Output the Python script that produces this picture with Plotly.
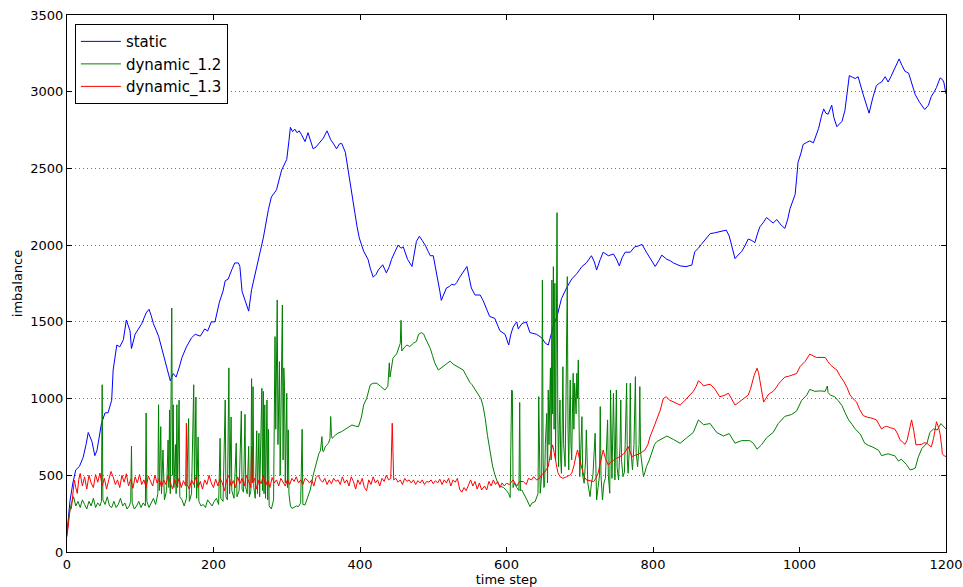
import plotly.graph_objects as go

# values, (time step, imbalance)
static_pts = [
    (0, 120), (4, 330), (8, 450), (12, 535), (17, 558), (22, 616), (26, 700), (29, 779), (34, 721), (38, 628),
    (41, 663), (44, 760), (47, 837), (52, 907), (56, 907), (61, 989), (63, 1186), (68, 1349), (72, 1337), (77, 1384),
    (81, 1512), (86, 1442), (88, 1326), (93, 1419), (97, 1454), (102, 1488), (108, 1558), (112, 1582), (115, 1540),
    (118, 1488), (125, 1407), (131, 1302), (136, 1209), (141, 1116), (145, 1163), (149, 1140), (153, 1200), (157, 1268),
    (163, 1337), (170, 1396), (175, 1419), (182, 1407), (188, 1454), (192, 1440), (197, 1500), (202, 1500), (208, 1628),
    (213, 1700), (216, 1768), (220, 1779), (225, 1840), (229, 1884), (234, 1884), (236, 1861), (239, 1698), (244, 1620),
    (248, 1570), (252, 1710), (259, 1861), (264, 1960), (268, 2047), (275, 2233), (279, 2314), (283, 2340), (286, 2361),
    (293, 2489), (300, 2559), (303, 2680), (305, 2768), (308, 2740), (311, 2756), (314, 2733), (317, 2745), (320, 2721),
    (325, 2675), (329, 2733), (333, 2680), (336, 2628), (340, 2640), (343, 2656), (347, 2680), (350, 2698), (355, 2745),
    (360, 2687), (364, 2660), (368, 2628), (372, 2660), (375, 2663), (380, 2605), (383, 2520), (386, 2419), (390, 2310),
    (393, 2210), (396, 2120), (399, 2047), (405, 1960), (411, 1907), (414, 1850), (418, 1791), (422, 1810), (425, 1838),
    (431, 1872), (436, 1819), (440, 1860), (443, 1907), (448, 1960), (452, 2000), (456, 1980), (459, 1989), (465, 1907),
    (471, 1861), (477, 2024), (481, 2058), (485, 2030), (489, 2000), (493, 1960), (496, 1931), (500, 1931), (503, 1860),
    (506, 1791), (509, 1700), (511, 1640), (515, 1690), (518, 1721), (522, 1730), (525, 1745), (529, 1740), (532, 1756),
    (536, 1790), (539, 1814), (543, 1840), (546, 1861), (549, 1790), (552, 1721), (557, 1675), (564, 1675), (568, 1640),
    (571, 1605), (577, 1535), (584, 1523), (588, 1480), (591, 1442), (598, 1419), (601, 1380), (603, 1349), (606, 1420),
    (609, 1465), (612, 1488), (614, 1500), (616, 1454), (621, 1488), (627, 1500), (632, 1430), (636, 1425), (641, 1419),
    (648, 1396), (653, 1361), (657, 1349), (662, 1442), (665, 1490), (669, 1535), (675, 1651), (682, 1721), (689, 1779),
    (696, 1814), (703, 1861), (709, 1884), (716, 1931), (720, 1890), (723, 1838), (728, 1907), (732, 1954), (739, 1931),
    (746, 1942), (750, 1910), (754, 1865), (758, 1920), (762, 1954), (769, 1954), (775, 1989), (780, 1995), (785, 2005),
    (791, 1954), (798, 1896), (803, 1861), (808, 1900), (812, 1935), (819, 1907), (823, 1900), (828, 1884), (837, 1865),
    (845, 1860), (853, 1870), (857, 1958), (862, 1980), (866, 2005), (872, 2040), (878, 2075), (884, 2080), (889, 2086),
    (895, 2090), (900, 2098), (904, 2060), (907, 2005), (912, 1912), (916, 1935), (921, 1958), (926, 2000), (930, 2040),
    (935, 2030), (939, 2016), (943, 2080), (946, 2120), (951, 2150), (955, 2180), (960, 2160), (964, 2144), (969, 2167),
    (975, 2130), (980, 2109), (984, 2170), (987, 2237), (991, 2290), (994, 2330), (996, 2430), (998, 2540), (1002, 2600),
    (1005, 2656), (1010, 2670), (1014, 2679), (1019, 2667), (1023, 2720), (1026, 2760), (1030, 2840), (1033, 2888),
    (1036, 2860), (1039, 2853), (1044, 2912), (1047, 2830), (1051, 2772), (1055, 2790), (1058, 2807), (1062, 2877),
    (1065, 3010), (1068, 3105), (1072, 3095), (1076, 3086), (1080, 3098), (1084, 3040), (1087, 2981), (1091, 2920),
    (1095, 2860), (1100, 2960), (1105, 3040), (1109, 3055), (1112, 3063), (1117, 3098), (1121, 3063), (1125, 3100),
    (1128, 3133), (1132, 3180), (1136, 3214), (1140, 3170), (1144, 3133), (1149, 3121), (1153, 3060), (1158, 2981),
    (1164, 2930), (1168, 2900), (1171, 2884), (1176, 2912), (1180, 2970), (1184, 3000), (1187, 3028), (1192, 3090),
    (1195, 3080), (1197, 3063), (1200, 2985),
]

# dynamic_1.2, spiky part (0 - 310)
dyn12_early = [
    (0, 120), (3, 250), (6, 317), (9, 360), (12, 300), (15, 330), (18, 290), (21, 340), (24, 310), (27, 280),
    (30, 330), (33, 300), (36, 350), (39, 290), (42, 320), (45, 300), (47, 330), (48, 1090), (49, 340), (52, 310),
    (55, 360), (58, 300), (61, 290), (64, 330), (67, 290), (70, 310), (73, 350), (76, 300), (79, 320), (82, 280),
    (85, 300), (87, 330), (88, 690), (89, 320), (92, 280), (95, 300), (98, 330), (101, 290), (104, 320), (107, 300),
    (108, 906), (109, 330), (112, 290), (115, 320), (118, 350), (121, 310), (124, 380), (125, 960), (126, 400),
    (128, 817), (129, 380), (131, 665), (133, 340), (136, 400), (138, 730), (139, 420), (140, 926), (141, 380),
    (143, 1590), (144, 500), (145, 960), (146, 420), (148, 700), (149, 380), (150, 960), (151, 420), (153, 990),
    (154, 360), (157, 340), (160, 300), (163, 350), (166, 870), (167, 330), (170, 380), (173, 1090), (174, 420),
    (176, 1010), (177, 350), (179, 750), (180, 330), (183, 300), (186, 310), (189, 290), (192, 340), (195, 320),
    (198, 300), (201, 330), (204, 350), (207, 310), (209, 741), (210, 350), (213, 330), (216, 991), (217, 360),
    (219, 340), (221, 1200), (222, 380), (224, 880), (225, 400), (228, 350), (231, 709), (232, 360), (235, 400),
    (238, 919), (239, 410), (241, 390), (243, 897), (244, 420), (246, 380), (248, 689), (249, 360), (251, 400),
    (252, 1130), (253, 450), (254, 1078), (255, 420), (257, 350), (259, 790), (260, 380), (262, 774), (263, 360),
    (266, 1067), (267, 400), (268, 1047), (269, 380), (270, 959), (271, 350), (273, 991), (274, 340), (275, 800),
    (276, 300), (279, 280), (282, 340), (284, 1404), (285, 800), (286, 1300), (287, 1643), (288, 700), (289, 1000),
    (290, 1241), (291, 500), (292, 900), (294, 1610), (295, 600), (296, 1200), (297, 1078), (298, 450), (300, 1034),
    (301, 420), (302, 796), (303, 380), (305, 300), (307, 285),
]

# dynamic_1.2, hump and second spiky burst (310 - 805)
dyn12_mid = [
    (310, 290), (313, 300), (316, 296), (319, 320), (321, 800), (322, 310), (325, 307), (328, 350), (332, 404),
    (336, 500), (339, 556), (342, 610), (344, 643), (346, 660), (348, 752), (349, 660), (350, 654), (353, 690),
    (357, 709), (359, 740), (360, 883), (361, 760), (362, 741), (366, 760), (370, 775), (375, 785), (380, 800),
    (385, 815), (389, 828), (394, 820), (398, 817), (402, 880), (405, 959), (409, 1000), (414, 1089), (418, 1100),
    (423, 1100), (428, 1080), (434, 1056), (438, 1080), (440, 1233), (441, 1140), (445, 1263), (450, 1291),
    (452, 1317), (455, 1360), (456, 1510), (457, 1310), (460, 1330), (464, 1349), (468, 1339), (473, 1361),
    (477, 1372), (480, 1419), (484, 1430), (487, 1420), (489, 1396), (492, 1370), (496, 1326), (499, 1280),
    (502, 1233), (507, 1186), (511, 1200), (516, 1221), (520, 1235), (523, 1244), (527, 1225), (532, 1210),
    (536, 1200), (541, 1186), (545, 1150), (550, 1105), (553, 1090), (557, 1058), (561, 1030), (565, 1000),
    (568, 950), (571, 870), (574, 760), (577, 660), (581, 560), (584, 505), (588, 450), (591, 430), (596, 420),
    (600, 400), (603, 380), (605, 355), (606, 700), (607, 1056), (608, 1050), (609, 420), (611, 450), (614, 420),
    (617, 400), (618, 975), (619, 400), (621, 404), (625, 370), (628, 339), (632, 296), (635, 320), (639, 328),
    (641, 350), (643, 380), (644, 1013), (645, 400), (646, 383), (648, 500), (649, 1773), (650, 600), (651, 420),
    (652, 426), (653, 700), (655, 904), (656, 450), (657, 1056), (658, 700), (659, 991), (660, 1200), (661, 600),
    (662, 1773), (663, 900), (664, 1860), (665, 800), (666, 1752), (667, 600), (668, 1200), (669, 2212), (670, 900),
    (671, 556), (672, 800), (673, 991), (674, 600), (675, 513), (676, 800), (677, 1208), (678, 700), (680, 556),
    (681, 900), (683, 1795), (684, 800), (685, 535), (686, 900), (687, 1121), (688, 700), (689, 600), (690, 900),
    (691, 1165), (692, 800), (693, 1100), (694, 1013), (695, 900), (696, 1165), (697, 1000), (698, 1252), (699, 700),
    (700, 491), (701, 600), (703, 882), (704, 500), (706, 448), (708, 600), (709, 796), (711, 450), (714, 361),
    (716, 450), (718, 500), (721, 774), (722, 450), (723, 339), (725, 420), (727, 500), (728, 948), (729, 500),
    (731, 339), (733, 450), (735, 480), (738, 861), (739, 500), (741, 383), (742, 1056), (743, 500), (744, 480),
    (746, 1034), (747, 600), (748, 470), (750, 1056), (751, 550), (753, 470), (755, 700), (756, 991), (757, 600),
    (759, 491), (761, 520), (762, 700), (764, 1100), (765, 600), (766, 513), (768, 700), (769, 1100), (770, 650),
    (772, 535), (774, 700), (776, 1143), (777, 650), (779, 556), (781, 700), (782, 1078), (783, 650), (785, 578),
    (787, 491), (789, 520), (791, 556), (795, 600), (798, 643), (802, 700), (805, 719),
]

# dynamic_1.2, smooth tail (810 - 1200)
dyn12_late = [
    (810, 733), (819, 756), (828, 733), (837, 709), (846, 744), (855, 779), (862, 861), (869, 830), (878, 837),
    (887, 779), (896, 756), (904, 772), (912, 709), (921, 726), (932, 726), (937, 709), (942, 670), (948, 698),
    (955, 744), (964, 779), (971, 837), (980, 884), (989, 896), (996, 919), (1003, 989), (1010, 1023), (1014, 1060),
    (1021, 1047), (1028, 1050), (1035, 1047), (1038, 1082), (1039, 1040), (1042, 1023), (1048, 1012), (1053, 985),
    (1058, 954), (1062, 910), (1067, 861), (1072, 830), (1076, 802), (1083, 768), (1089, 709), (1094, 695),
    (1099, 686), (1108, 663), (1112, 628), (1117, 635), (1121, 640), (1126, 632), (1130, 628), (1135, 593),
    (1139, 605), (1146, 570), (1151, 535), (1155, 540), (1158, 547), (1162, 616), (1167, 675), (1174, 709),
    (1178, 779), (1183, 802), (1188, 795), (1193, 837), (1197, 814), (1200, 802),
]

# dynamic_1.3, noisy flat part (0 - 597)
dyn13_early = [
    (0, 100), (2, 200), (4, 270), (6, 285), (8, 380), (10, 469), (12, 420), (14, 382), (16, 470), (18, 512),
    (21, 430), (24, 490), (27, 410), (30, 500), (33, 450), (36, 420), (39, 505), (42, 455), (45, 515), (48, 430),
    (51, 480), (54, 410), (57, 470), (60, 525), (63, 490), (66, 440), (69, 470), (72, 420), (75, 500), (78, 455),
    (81, 510), (84, 430), (87, 475), (90, 415), (93, 490), (96, 450), (99, 505), (102, 440), (105, 470), (108, 420),
    (111, 495), (114, 460), (117, 430), (120, 500), (123, 450), (126, 480), (129, 420), (132, 470), (135, 440),
    (138, 500), (141, 455), (144, 410), (147, 470), (150, 430), (153, 480), (156, 420), (159, 465), (162, 430),
    (163, 839), (164, 440), (167, 410), (170, 470), (173, 440), (176, 490), (179, 420), (182, 460), (185, 410),
    (188, 470), (191, 440), (194, 500), (197, 450), (200, 420), (203, 475), (206, 430), (209, 480), (212, 450),
    (215, 400), (218, 470), (221, 500), (224, 430), (227, 465), (230, 420), (233, 490), (236, 445), (239, 480),
    (242, 430), (245, 500), (248, 460), (251, 420), (252, 687), (253, 450), (256, 480), (259, 410), (262, 470),
    (265, 445), (268, 500), (271, 430), (274, 470), (277, 420), (280, 485), (283, 450), (286, 470), (289, 430),
    (292, 480), (295, 455), (298, 430), (301, 475), (304, 440), (307, 480), (310, 460), (313, 490), (316, 450),
    (319, 470), (322, 440), (325, 480), (328, 470), (331, 450), (334, 470), (337, 430), (340, 485), (343, 500),
    (346, 470), (349, 455), (352, 480), (355, 440), (358, 470), (361, 445), (364, 480), (367, 460), (370, 470),
    (373, 440), (376, 490), (379, 450), (382, 470), (385, 430), (388, 490), (391, 460), (394, 410), (397, 470),
    (400, 440), (403, 480), (406, 420), (409, 400), (412, 470), (415, 440), (418, 490), (421, 450), (424, 470),
    (427, 430), (430, 480), (433, 460), (436, 500), (439, 470), (442, 480), (444, 839), (446, 470), (449, 480),
    (452, 455), (455, 470), (458, 440), (461, 480), (464, 460), (467, 470), (470, 450), (473, 470), (476, 440),
    (479, 465), (482, 450), (485, 470), (488, 440), (491, 460), (494, 455), (497, 470), (500, 445), (503, 465),
    (506, 450), (509, 475), (512, 440), (515, 470), (518, 450), (521, 480), (524, 430), (527, 470), (530, 455),
    (533, 480), (536, 410), (539, 390), (542, 420), (545, 400), (548, 440), (551, 470), (554, 430), (557, 460),
    (560, 410), (563, 450), (566, 404), (570, 430), (573, 404), (576, 460), (579, 430), (582, 470), (585, 440),
    (588, 459), (591, 420), (594, 450), (597, 430),
]

# dynamic_1.3, bumps and rise (600 - 1200)
dyn13_late = [
    (600, 448), (604, 440), (609, 470), (614, 430), (618, 460), (623, 459), (627, 440), (630, 480), (634, 470),
    (637, 491), (641, 470), (645, 480), (648, 502), (652, 520), (655, 540), (657, 557), (660, 640), (663, 698),
    (665, 650), (668, 578), (670, 520), (673, 491), (677, 480), (682, 491), (686, 500), (689, 513), (692, 560),
    (695, 630), (697, 665), (700, 600), (703, 535), (706, 490), (709, 470), (714, 465), (719, 459), (722, 480),
    (725, 513), (728, 580), (732, 665), (735, 610), (739, 567), (742, 585), (746, 600), (750, 610), (755, 622),
    (760, 640), (763, 660), (766, 687), (769, 650), (771, 622), (775, 630), (778, 633), (783, 645), (789, 665),
    (793, 700), (796, 752), (800, 800), (803, 839), (806, 880), (810, 926), (814, 1000), (818, 1012), (823, 989),
    (830, 975), (837, 958), (842, 980), (846, 1000), (850, 1020), (855, 1047), (859, 1080), (862, 1116), (866, 1100),
    (869, 1082), (874, 1090), (878, 1093), (882, 1075), (885, 1058), (891, 1012), (897, 1020), (903, 1035),
    (908, 990), (912, 958), (917, 975), (921, 989), (926, 1005), (930, 1023), (933, 1060), (935, 1093), (938, 1150),
    (942, 1198), (944, 1170), (946, 1116), (949, 1030), (951, 977), (954, 1000), (957, 1023), (960, 1035),
    (964, 1047), (968, 1070), (971, 1093), (976, 1120), (980, 1140), (985, 1145), (989, 1151), (993, 1158),
    (996, 1163), (1001, 1210), (1005, 1230), (1008, 1244), (1014, 1290), (1018, 1280), (1023, 1268), (1028, 1268),
    (1035, 1268), (1039, 1240), (1042, 1221), (1047, 1200), (1051, 1186), (1055, 1150), (1060, 1116), (1065, 1070),
    (1069, 1023), (1073, 1000), (1078, 977), (1082, 930), (1087, 889), (1093, 878), (1099, 872), (1105, 861),
    (1109, 830), (1112, 802), (1116, 815), (1119, 819), (1124, 810), (1130, 802), (1134, 770), (1137, 733),
    (1141, 715), (1144, 702), (1147, 730), (1149, 779), (1151, 830), (1153, 861), (1156, 790), (1159, 698),
    (1163, 700), (1167, 702), (1170, 712), (1174, 709), (1177, 695), (1180, 686), (1183, 740), (1185, 810),
    (1187, 849), (1190, 810), (1192, 768), (1194, 690), (1195, 640), (1198, 625), (1200, 623),
]

series = [
    ("static", static_pts, "#0000ff"),
    ("dynamic_1.2", dyn12_early + dyn12_mid + dyn12_late, "#008000"),
    ("dynamic_1.3", dyn13_early + dyn13_late, "#ff0000"),
]

x_ticks = [0, 200, 400, 600, 800, 1000, 1200]
y_ticks = [0, 500, 1000, 1500, 2000, 2500, 3000, 3500]

fig = go.Figure()
for name, pts, color in series:
    xs, ys = zip(*pts)
    fig.add_trace(go.Scatter(x=list(xs), y=list(ys), mode="lines", name=name,
                             line=dict(color=color, width=1)))

font = "DejaVu Sans, sans-serif"
fig.update_layout(
    width=963, height=587,
    margin=dict(l=67, r=17, t=15, b=35),
    paper_bgcolor="white", plot_bgcolor="white",
    font=dict(family=font, size=13, color="black"),
    showlegend=True,
    legend=dict(
        x=0.009, y=0.983, xanchor="left", yanchor="top",
        bgcolor="white", bordercolor="black", borderwidth=1,
        font=dict(family=font, size=15), itemwidth=40,
    ),
)
fig.update_xaxes(
    range=[0, 1200], tickvals=x_ticks, showgrid=False, zeroline=False,
    showline=True, linecolor="black", linewidth=1, mirror="ticks",
    ticks="inside", ticklen=5, tickcolor="black",
    title=dict(text="time step", standoff=2, font=dict(size=13)), automargin=False,
)
fig.update_yaxes(
    range=[0, 3500], tickvals=y_ticks, showgrid=True, gridcolor="#777777", griddash="1px,3px", gridwidth=1,
    zeroline=False, showline=True, linecolor="black", linewidth=1, mirror="ticks",
    ticks="inside", ticklen=5, tickcolor="black",
    title=dict(text="imbalance", standoff=4, font=dict(size=13)), automargin=False,
)

# drop the browser's default page margin so the figure sits at the top-left corner
fig.write_html("out.html", config={"displayModeBar": False},
               post_script="document.body.style.margin='0';")
